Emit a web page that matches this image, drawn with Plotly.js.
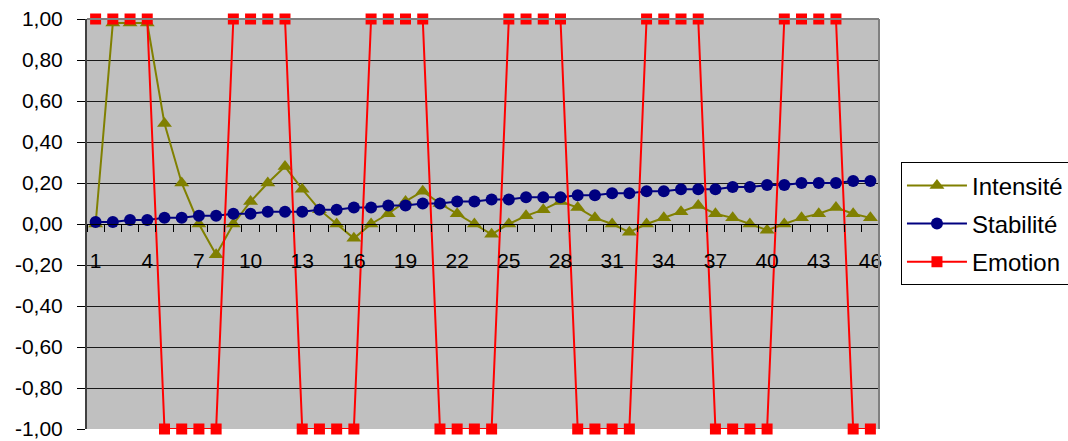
<!DOCTYPE html>
<html>
<head>
<meta charset="utf-8">
<script src="https://cdn.plot.ly/plotly-3.0.1.min.js"></script>
<style>html,body{margin:0;padding:0;background:#fff;}#chart{width:1068px;height:441px;}</style>
</head>
<body>
<div id="chart"></div>
<script>
const categories = [];
for (let i = 1; i <= 46; i++) categories.push(i);

const intensite = [0.00, 0.98, 0.98, 0.98, 0.49, 0.20, 0.00, -0.15, 0.00, 0.11,
  0.20, 0.28, 0.17, 0.07, 0.00, -0.07, 0.00, 0.05, 0.11, 0.16,
  0.10, 0.05, 0.00, -0.05, 0.00, 0.04, 0.07, 0.11, 0.08, 0.03,
  0.00, -0.04, 0.00, 0.03, 0.06, 0.09, 0.05, 0.03, 0.00, -0.03,
  0.00, 0.03, 0.05, 0.08, 0.05, 0.03];

const stabilite = [0.01, 0.01, 0.02, 0.02, 0.03, 0.03, 0.04, 0.04, 0.05, 0.05,
  0.06, 0.06, 0.06, 0.07, 0.07, 0.08, 0.08, 0.09, 0.09, 0.10,
  0.10, 0.11, 0.11, 0.12, 0.12, 0.13, 0.13, 0.13, 0.14, 0.14,
  0.15, 0.15, 0.16, 0.16, 0.17, 0.17, 0.17, 0.18, 0.18, 0.19,
  0.19, 0.20, 0.20, 0.20, 0.21, 0.21];

const emotion = [1, 1, 1, 1, -1, -1, -1, -1, 1, 1,
  1, 1, -1, -1, -1, -1, 1, 1, 1, 1,
  -1, -1, -1, -1, 1, 1, 1, 1, -1, -1,
  -1, -1, 1, 1, 1, 1, -1, -1, -1, -1,
  1, 1, 1, 1, -1, -1];

const xTickVals = [1, 4, 7, 10, 13, 16, 19, 22, 25, 28, 31, 34, 37, 40, 43, 46];
const xTickText = ['1', '4', '7', '10', '13', '16', '19', '22', '25', '28', '31', '34', '37', '40', '43', '46'];
const yTickVals = [-1, -0.8, -0.6, -0.4, -0.2, 0, 0.2, 0.4, 0.6, 0.8, 1];
const yTickText = ['-1,00', '-0,80', '-0,60', '-0,40', '-0,20', '0,00', '0,20', '0,40', '0,60', '0,80', '1,00'];

const boundaries = [];
const blankText = [];
for (let i = 0; i <= categories.length; i++) { boundaries.push(i + 0.5); blankText.push(''); }

const traces = [
  {x: categories, y: stabilite, xaxis: 'x2', yaxis: 'y', type: 'scatter', mode: 'markers',
   marker: {opacity: 0, size: 1}, showlegend: false, hoverinfo: 'skip'},
  {x: categories, y: intensite, name: 'Intensité', type: 'scatter', mode: 'lines+markers',
   line: {color: '#808000', width: 2}, marker: {symbol: 'triangle-up', size: 13, color: '#808000'},
   cliponaxis: false, legendgroup: 'a'},
  {x: categories, y: stabilite, name: 'Stabilité', type: 'scatter', mode: 'lines+markers',
   line: {color: '#000080', width: 2}, marker: {symbol: 'circle', size: 12, color: '#000080'},
   cliponaxis: false, legendgroup: 'b'},
  {x: categories, y: emotion, name: 'Emotion', type: 'scatter', mode: 'lines+markers',
   line: {color: '#FF0000', width: 2}, marker: {symbol: 'square', size: 11, color: '#FF0000'},
   cliponaxis: false, legendgroup: 'c'}
];

const layout = {
  width: 1068, height: 441,
  margin: {l: 87, r: 189, t: 19, b: 12},
  paper_bgcolor: '#ffffff',
  plot_bgcolor: '#C0C0C0',
  font: {family: 'Liberation Sans, Arial, sans-serif', size: 21, color: '#000'},
  showlegend: true,
  legend: {
    xref: 'container', yref: 'container', x: 0.8436, y: 0.632, xanchor: 'left', yanchor: 'top',
    bordercolor: '#000', borderwidth: 1, bgcolor: '#fff', font: {size: 24, color: '#000'},
    traceorder: 'grouped', tracegroupgap: 4, itemwidth: 60
  },
  xaxis: {
    range: [0.5, 46.5], anchor: 'free', position: 0.5,
    tickmode: 'array', tickvals: boundaries, ticktext: blankText,
    ticks: 'outside', ticklen: 7, tickcolor: '#000', tickwidth: 1,
    showgrid: false, zeroline: false, showline: true, linecolor: '#000', linewidth: 1
  },
  xaxis2: {
    overlaying: 'x', range: [0.5, 46.5], anchor: 'free', position: 0.5, side: 'bottom',
    tickmode: 'array', tickvals: xTickVals, ticktext: xTickText,
    ticks: '', ticklabelstandoff: 22,
    showgrid: false, zeroline: false, showline: false,
    tickfont: {size: 21}
  },
  yaxis: {
    range: [-1, 1], tickmode: 'array', tickvals: yTickVals, ticktext: yTickText,
    ticks: 'outside', ticklen: 8, tickcolor: '#000', ticklabelstandoff: 10,
    showgrid: true, gridcolor: '#1a1a1a', gridwidth: 1, zeroline: false,
    showline: true, linecolor: '#404040', linewidth: 2,
    tickfont: {size: 21}
  },
  shapes: [
    {type: 'line', xref: 'paper', yref: 'paper', x0: 0, x1: 1, y0: 1, y1: 1, line: {color: '#808080', width: 2}},
    {type: 'line', xref: 'paper', yref: 'paper', x0: 1, x1: 1, y0: 0, y1: 1, line: {color: '#808080', width: 2}}
  ]
};

Plotly.newPlot('chart', traces, layout, {displayModeBar: false, staticPlot: true});
</script>
</body>
</html>
